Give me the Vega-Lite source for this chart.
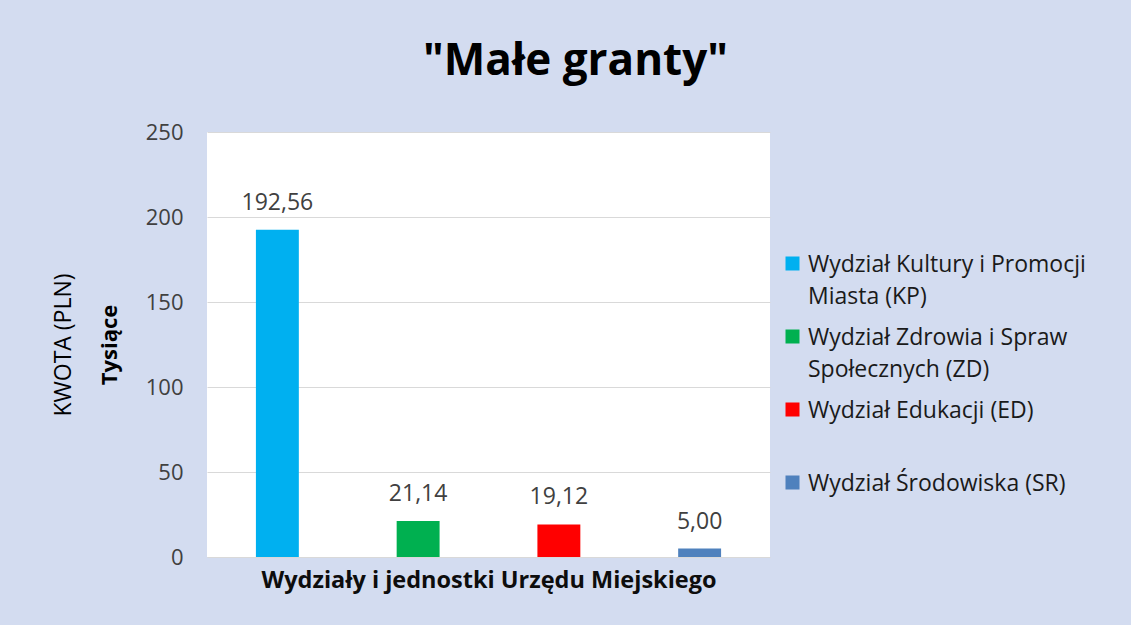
{
  "$schema": "https://vega.github.io/schema/vega-lite/v6.json",
  "width": 563,
  "height": 425,
  "autosize": {"type": "none"},
  "padding": {"left": 207, "top": 132, "right": 361, "bottom": 68},
  "background": "#d3dcf0",
  "title": {
    "text": "\"Małe granty\"",
    "anchor": "middle",
    "dx": 87,
    "offset": 37,
    "fontSize": 44,
    "font": "Open Sans",
    "fontWeight": "bold",
    "color": "#000000"
  },
  "config": {
    "font": "Open Sans",
    "locale": {"number": {"decimal": ",", "thousands": " ", "grouping": [3], "currency": ["", " zł"]}},
    "view": {"fill": "#ffffff", "stroke": null}
  },
  "data": {
    "values": [
      {"dzial": "Wydział Kultury i Promocji Miasta (KP)", "kwota": 192.56},
      {"dzial": "Wydział Zdrowia i Spraw Społecznych (ZD)", "kwota": 21.14},
      {"dzial": "Wydział Edukacji (ED)", "kwota": 19.12},
      {"dzial": "Wydział Środowiska (SR)", "kwota": 5.00}
    ]
  },
  "layer": [
    {
      "mark": {"type": "bar", "width": {"band": 0.305}},
      "encoding": {
        "x": {
          "field": "dzial", "type": "nominal", "sort": null,
          "scale": {"paddingInner": 0, "paddingOuter": 0},
          "axis": {
            "labels": false, "ticks": false, "domain": false,
            "title": "Wydziały i jednostki Urzędu Miejskiego",
            "titleFontSize": 23.5, "titleFontWeight": "bold", "titleColor": "#0d0d0d", "titlePadding": 11
          }
        },
        "y": {
          "field": "kwota", "type": "quantitative",
          "scale": {"domain": [0, 250]},
          "axis": {
            "values": [0, 50, 100, 150, 200, 250],
            "grid": true, "gridColor": "#d9d9d9", "domain": false, "ticks": false, "tickSize": 0,
            "labelPadding": 24, "labelFontSize": 22, "labelColor": "#404040",
            "title": "Tysiące", "titleFontSize": 22, "titleFontWeight": "bold", "titlePadding": 24, "titleColor": "#000000"
          }
        },
        "color": {
          "field": "dzial", "type": "nominal",
          "scale": {
            "domain": ["Wydział Kultury i Promocji Miasta (KP)", "Wydział Zdrowia i Spraw Społecznych (ZD)", "Wydział Edukacji (ED)", "Wydział Środowiska (SR)"],
            "range": ["#00b0f0", "#00b050", "#ff0000", "#4f81bd"]
          },
          "legend": {
            "orient": "none", "legendX": 574, "legendY": 120, "title": null, "padding": 0,
            "symbolType": "square", "symbolSize": 196, "symbolStrokeWidth": 0,
            "labelFontSize": 23, "labelColor": "#1a1a1a", "labelOffset": 4, "labelLimit": 400,
            "labelBaseline": "alphabetic", "rowPadding": 16,
            "labelExpr": "datum.label == 'Wydział Kultury i Promocji Miasta (KP)' ? ['Wydział Kultury i Promocji', 'Miasta (KP)'] : datum.label == 'Wydział Zdrowia i Spraw Społecznych (ZD)' ? ['Wydział Zdrowia i Spraw', 'Społecznych (ZD)'] : datum.label == 'Wydział Edukacji (ED)' ? ['Wydział Edukacji (ED)', ' '] : datum.label",
            "encode": {"labels": {"update": {"dy": {"value": 8}, "lineHeight": {"value": 32}}}}
          }
        }
      }
    },
    {
      "mark": {"type": "text", "baseline": "alphabetic", "dy": -20, "fontSize": 23, "color": "#404040"},
      "encoding": {
        "x": {"field": "dzial", "type": "nominal", "sort": null},
        "y": {
          "field": "kwota", "type": "quantitative",
          "scale": {"domain": [0, 250]},
          "axis": {
            "orient": "left", "offset": 112, "labels": false, "ticks": false, "domain": false, "grid": false,
            "title": "KWOTA (PLN)", "titleFontSize": 23, "titleFontWeight": "normal", "titleColor": "#000000", "titlePadding": 20
          }
        },
        "text": {"field": "kwota", "type": "quantitative", "format": ".2f"}
      }
    }
  ],
  "resolve": {"scale": {"y": "independent"}}
}
